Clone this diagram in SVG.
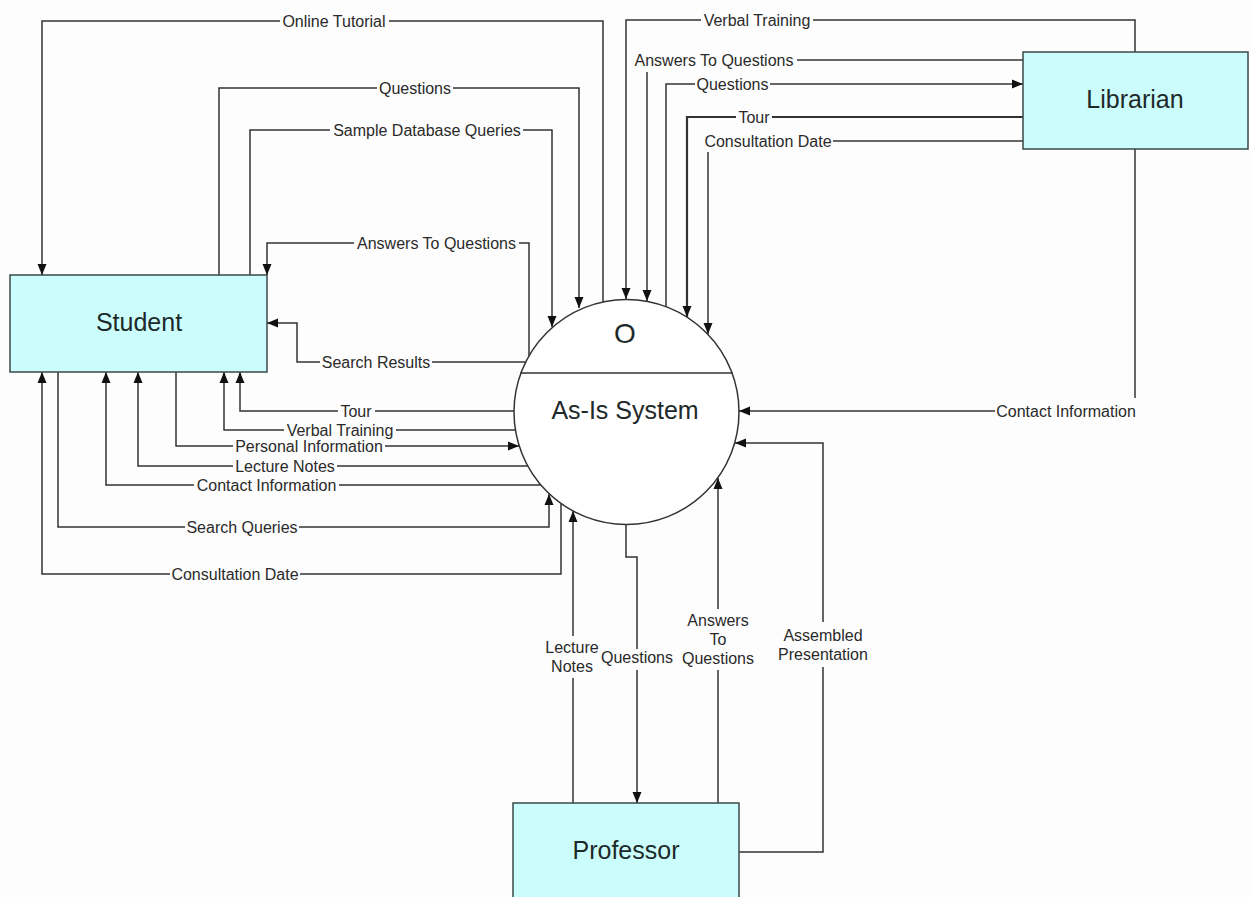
<svg xmlns="http://www.w3.org/2000/svg" width="1251" height="897" viewBox="0 0 1251 897">
<style>
.bg{fill:#fdfdfd}
.box{fill:#ccfdfd;stroke:#3a4848;stroke-width:1.5}
.proc{fill:#fff;stroke:#333;stroke-width:1.5}
.ntext{font-family:"Liberation Sans",Arial,sans-serif;font-size:25px;fill:#1e2a2a;text-anchor:middle}
.c{fill:none;stroke:#333;stroke-width:1.5}
.ca{fill:none;stroke:#333;stroke-width:1.5;marker-end:url(#ah)}
.lbg{fill:#fdfdfd}
.lbl{font-family:"Liberation Sans",Arial,sans-serif;font-size:16px;fill:#2a2a2a;text-anchor:middle}
</style>
<defs>
<marker id="ah" markerUnits="userSpaceOnUse" markerWidth="12" markerHeight="10" refX="11" refY="5" orient="auto">
<path d="M0,0.5 L11,5 L0,9.5 Z" fill="#111"/>
</marker>
</defs>
<rect class="bg" x="0" y="0" width="1251" height="897"/>

<g id="connectors">
<!-- Student side, top -->
<path class="ca" d="M603,302 V21 H42 V275"/>
<path class="ca" d="M219,275 V88 H579 V308"/>
<path class="ca" d="M250,275 V130 H552 V327"/>
<path class="ca" d="M529,356 V243 H267 V275"/>
<!-- Librarian top -->
<path class="ca" d="M1135,52 V20 H626 V299"/>
<path class="c" d="M1023,60 H797"/>
<path class="ca" d="M647,72 V301"/>
<path class="ca" d="M666,307 V84 H1023"/>
<path class="ca" style="stroke-width:2.2" d="M1023,117 H687 V317"/>
<path class="c" d="M1023,141 H833"/>
<path class="ca" d="M708,152 V334"/>
<path class="c" d="M1135,149 V398"/>
<path class="ca" d="M995,411 H739"/>
<!-- Student left bottom -->
<path class="ca" d="M525,362 H297 V323 H267"/>
<path class="ca" d="M514,411 H240 V372"/>
<path class="ca" d="M515,430 H224 V372"/>
<path class="ca" d="M176,372 V446 H519"/>
<path class="ca" d="M528,466 H138 V372"/>
<path class="ca" d="M541,485 H106 V372"/>
<path class="ca" d="M58,372 V527 H549 V494"/>
<path class="ca" d="M561,504 V574 H42 V372"/>
<!-- Professor -->
<path class="ca" d="M573,803 V511"/>
<path class="ca" d="M626,525 V557 H637 V803"/>
<path class="ca" d="M718,803 V478"/>
<path class="ca" d="M739,852 H823 V443 H735"/>

<!-- labels -->
<rect class="lbg" x="280" y="12" width="109" height="18"/>
<text class="lbl" x="334" y="26.5">Online Tutorial</text>
<rect class="lbg" x="377" y="79" width="76" height="18"/>
<text class="lbl" x="415" y="93.5">Questions</text>
<rect class="lbg" x="330" y="121" width="193" height="18"/>
<text class="lbl" x="427" y="135.5">Sample Database Queries</text>
<rect class="lbg" x="354" y="234" width="165" height="18"/>
<text class="lbl" x="436.5" y="248.5">Answers To Questions</text>

<rect class="lbg" x="701" y="11" width="112" height="18"/>
<text class="lbl" x="757" y="25.5">Verbal Training</text>
<text class="lbl" x="714" y="66">Answers To Questions</text>
<rect class="lbg" x="695" y="75" width="75" height="18"/>
<text class="lbl" x="732.5" y="89.5">Questions</text>
<rect class="lbg" x="736" y="108" width="36" height="18"/>
<text class="lbl" x="754" y="122.5">Tour</text>
<text class="lbl" x="768" y="146.5">Consultation Date</text>
<text class="lbl" x="1066" y="416.5">Contact Information</text>

<rect class="lbg" x="320" y="353" width="112" height="18"/>
<text class="lbl" x="376" y="367.5">Search Results</text>
<rect class="lbg" x="338" y="402" width="37" height="18"/>
<text class="lbl" x="356" y="416.5">Tour</text>
<rect class="lbg" x="284" y="422" width="112" height="16"/>
<text class="lbl" x="340" y="435.5">Verbal Training</text>
<rect class="lbg" x="233" y="438" width="152" height="16"/>
<text class="lbl" x="309" y="451.5">Personal Information</text>
<rect class="lbg" x="233" y="457" width="104" height="18"/>
<text class="lbl" x="285" y="471.5">Lecture Notes</text>
<rect class="lbg" x="194" y="476" width="145" height="18"/>
<text class="lbl" x="266.5" y="490.5">Contact Information</text>
<rect class="lbg" x="185" y="518" width="114" height="18"/>
<text class="lbl" x="242" y="532.5">Search Queries</text>
<rect class="lbg" x="170" y="565" width="130" height="18"/>
<text class="lbl" x="235" y="579.5">Consultation Date</text>

<rect class="lbg" x="547" y="636" width="51" height="42"/>
<text class="lbl" x="572" y="653">Lecture</text>
<text class="lbl" x="572" y="672">Notes</text>
<rect class="lbg" x="601" y="649" width="72" height="21"/>
<text class="lbl" x="637" y="663">Questions</text>
<rect class="lbg" x="682" y="609" width="72" height="61"/>
<text class="lbl" x="718" y="626">Answers</text>
<text class="lbl" x="718" y="645">To</text>
<text class="lbl" x="718" y="664">Questions</text>
<rect class="lbg" x="776" y="622" width="94" height="45"/>
<text class="lbl" x="823" y="641">Assembled</text>
<text class="lbl" x="823" y="660">Presentation</text>
</g>

<g id="student">
<rect class="box" x="10" y="275" width="257" height="97"/>
<text class="ntext" x="139" y="331">Student</text>
</g>
<g id="librarian">
<rect class="box" x="1023" y="52" width="225" height="97"/>
<text class="ntext" x="1135" y="108">Librarian</text>
</g>
<g id="professor">
<rect class="box" x="513" y="803" width="226" height="100"/>
<text class="ntext" x="626" y="859">Professor</text>
</g>
<g id="system">
<circle class="proc" cx="626.5" cy="412" r="112.5"/>
<line x1="520" y1="373" x2="733" y2="373" stroke="#333" stroke-width="1.5"/>
<text class="ntext" x="625" y="343" style="font-size:28px">O</text>
<text class="ntext" x="625" y="419">As-Is System</text>
</g>
</svg>
